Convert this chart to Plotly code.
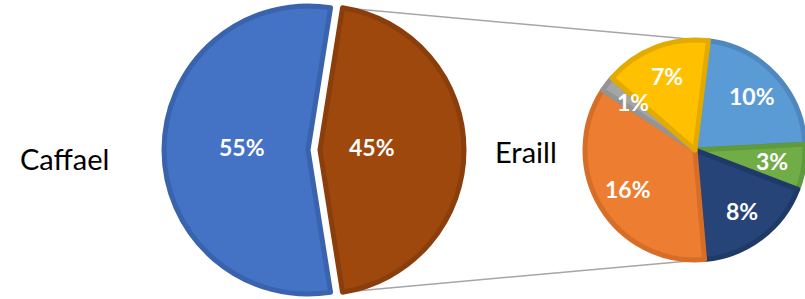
import math
import plotly.graph_objects as go

# ---- data ----
main_labels = ["Caffael", "Eraill"]
main_values = [55, 45]
sub_labels = ["Eraill 1", "Eraill 2", "Eraill 3", "Eraill 4", "Eraill 5", "Eraill 6"]
sub_values = [10, 3, 8, 16, 1, 7]

# ---- style ----
W, H = 805, 299
main_colors = ["#4472C4", "#9E480E"]
main_lines = ["#3A63AD", "#8A3E0C"]
sub_colors = ["#5B9BD5", "#70AD47", "#264478", "#ED7D31", "#A5A5A5", "#FFC000"]
sub_lines = ["#4E88BF", "#5F9A3B", "#1F3A68", "#D66E28", "#949494", "#E3AB00"]
FONT = "Lato"
TRANSP = "rgba(0,0,0,0)"
LBL_FONT = dict(family=FONT, size=23, color="white", weight="bold")

R_MAIN = 144
CY = 150
CX_BLUE, CX_BROWN = 308, 320
R_SUB = 110
CX_SUB = 695

def dom(cx, cy, r):
    return dict(x=[(cx - r) / W, min(1.0, (cx + r) / W)], y=[(H - (cy + r)) / H, (H - (cy - r)) / H])

def px2paper(x, y):
    return x / W, 1 - y / H

fig = go.Figure()
main_total = sum(main_values)
half = 360 * main_values[1] / main_total / 2
main_rot = 90 + half  # first slice starts so the second (exploded) one is centred on the right

annotations = []
for idx, cx in enumerate([CX_BLUE, CX_BROWN]):
    fig.add_trace(go.Pie(
        labels=main_labels, values=main_values, sort=False, direction="clockwise",
        rotation=main_rot,
        domain=dom(cx, CY, R_MAIN),
        marker=dict(colors=[c if i == idx else TRANSP for i, c in enumerate(main_colors)],
                    line=dict(color=[c if i == idx else TRANSP for i, c in enumerate(main_lines)], width=5)),
        textinfo="none",
        hoverinfo="skip", showlegend=False,
    ))
    # percent label along the slice bisector
    start = main_rot + 360 * sum(main_values[:idx]) / main_total
    mid = math.radians(start + 360 * main_values[idx] / main_total / 2)
    frac = [0.46, 0.36][idx]
    lx = cx + frac * R_MAIN * math.sin(mid)
    ly = CY - 3 - frac * R_MAIN * math.cos(mid)
    x, y = px2paper(lx, ly)
    annotations.append(dict(text=f"{round(100 * main_values[idx] / main_total)}%", x=x, y=y,
                            xref="paper", yref="paper", xanchor="center", yanchor="middle",
                            showarrow=False, font=LBL_FONT))

sub_rot = 7
sub_total = sum(sub_values)
fig.add_trace(go.Pie(
    labels=sub_labels, values=sub_values, sort=False, direction="clockwise",
    rotation=sub_rot,
    domain=dom(CX_SUB, CY, R_SUB),
    marker=dict(colors=sub_colors, line=dict(color=sub_lines, width=5)),
    textinfo="none",
    hoverinfo="skip", showlegend=False,
))
acc = 0
for v in sub_values:
    mid = math.radians(sub_rot + 360 * (acc + v / 2) / sub_total)
    acc += v
    lx = CX_SUB + 0.71 * R_SUB * math.sin(mid)
    ly = CY - 1 - 0.71 * R_SUB * math.cos(mid)
    x, y = px2paper(lx, ly)
    annotations.append(dict(text=f"{v}%", x=x, y=y, xref="paper", yref="paper",
                            xanchor="center", yanchor="middle",
                            showarrow=False, font=LBL_FONT))

# connector lines from exploded slice corners to the secondary pie
a0 = math.radians(90 - half)
p_top = (CX_BROWN + R_MAIN * math.sin(a0), CY - R_MAIN * math.cos(a0))
p_bot = (CX_BROWN + R_MAIN * math.sin(a0), CY + R_MAIN * math.cos(a0))
s_top = (CX_SUB + R_SUB * math.sin(math.radians(sub_rot)), CY - R_SUB * math.cos(math.radians(sub_rot)))
s_bot = (CX_SUB + R_SUB * math.sin(math.radians(173)), CY - R_SUB * math.cos(math.radians(173)))

shapes = []
for a, b in [(p_top, s_top), (p_bot, s_bot)]:
    x0, y0 = px2paper(*a)
    x1, y1 = px2paper(*b)
    shapes.append(dict(type="line", xref="paper", yref="paper", x0=x0, y0=y0, x1=x1, y1=y1,
                       line=dict(color="#A6A6A6", width=1.5), layer="below"))

for name, (lx, ly) in zip(main_labels, [(18, 158), (493, 151)]):
    x, y = px2paper(lx, ly)
    annotations.append(dict(text=name, x=x, y=y, xref="paper", yref="paper",
                            xanchor="left", yanchor="middle", showarrow=False,
                            font=dict(family=FONT, size=29, color="#000000")))

fig.update_layout(
    width=W, height=H, margin=dict(l=0, r=0, t=0, b=0),
    paper_bgcolor="white", plot_bgcolor="white",
    shapes=shapes, annotations=annotations,
)

fig.write_html("out.html", config={"displayModeBar": False},
               post_script="document.body.style.margin='0';")
